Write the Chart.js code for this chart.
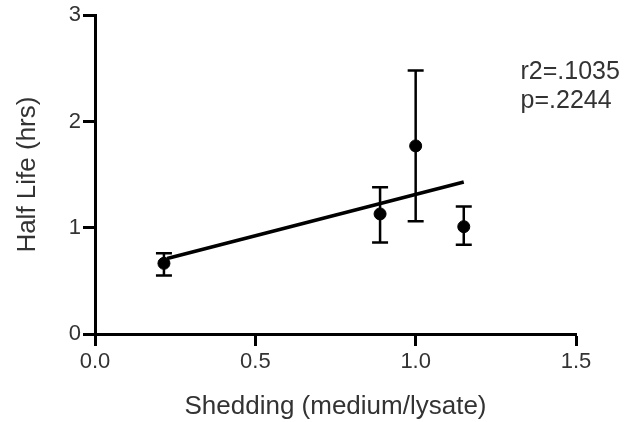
<!DOCTYPE html>
<html>
<head>
<meta charset="utf-8">
<script src="https://cdn.jsdelivr.net/npm/chart.js@4/dist/chart.umd.min.js"></script>
<style>
  html, body { margin: 0; padding: 0; background: #ffffff; }
  #wrap { width: 627px; height: 422px; }
</style>
</head>
<body>
<div id="wrap"><canvas id="c" width="627" height="422"></canvas></div>
<script>
// ---- data ----
const sheddingX   = [0.215, 0.889, 1.0, 1.15];
const halfLifeY   = [0.665, 1.13, 1.77, 1.01];
const errorLow    = [0.55, 0.86, 1.06, 0.84];
const errorHigh   = [0.76, 1.38, 2.48, 1.20];
const fitX        = [0.225, 1.15];
const fitY        = [0.71, 1.43];
const xTicks      = [0.0, 0.5, 1.0, 1.5];
const yTicks      = [0, 1, 2, 3];
const statLines   = ["r2=.1035", "p=.2244"];
const statAnchorX = 1.327;
const statAnchorY = [2.46, 2.19];

const ink = '#000000';
const textInk = '#333333';
const fontFam = '"Liberation Sans", Arial, Helvetica, sans-serif';

const errorBarPlugin = {
  id: 'errorBars',
  afterDatasetsDraw(chart) {
    const xs = chart.scales.x, ys = chart.scales.y;
    const ctx = chart.ctx;
    ctx.save();
    ctx.strokeStyle = ink;
    ctx.lineWidth = 2.5;
    const cap = 8;
    for (let i = 0; i < sheddingX.length; i++) {
      const px = xs.getPixelForValue(sheddingX[i]);
      const lo = ys.getPixelForValue(errorLow[i]);
      const hi = ys.getPixelForValue(errorHigh[i]);
      ctx.beginPath();
      ctx.moveTo(px, lo); ctx.lineTo(px, hi);
      ctx.moveTo(px - cap, lo); ctx.lineTo(px + cap, lo);
      ctx.moveTo(px - cap, hi); ctx.lineTo(px + cap, hi);
      ctx.stroke();
    }
    ctx.restore();
  }
};

const statsPlugin = {
  id: 'stats',
  afterDraw(chart) {
    const xs = chart.scales.x, ys = chart.scales.y;
    const ctx = chart.ctx;
    ctx.save();
    ctx.fillStyle = textInk;
    ctx.font = '25px ' + fontFam;
    ctx.textAlign = 'left';
    ctx.textBaseline = 'middle';
    statLines.forEach((t, i) => {
      ctx.fillText(t, xs.getPixelForValue(statAnchorX), ys.getPixelForValue(statAnchorY[i]));
    });
    ctx.restore();
  }
};

new Chart(document.getElementById('c'), {
  type: 'scatter',
  data: {
    datasets: [
      {
        label: 'Half life',
        data: sheddingX.map((x, i) => ({ x: x, y: halfLifeY[i] })),
        backgroundColor: ink,
        borderColor: ink,
        pointRadius: 6,
        pointHoverRadius: 6,
        order: 1
      },
      {
        type: 'line',
        label: 'Fit',
        data: fitX.map((x, i) => ({ x: x, y: fitY[i] })),
        borderColor: ink,
        borderWidth: 3.5,
        pointRadius: 0,
        fill: false,
        order: 2
      }
    ]
  },
  options: {
    responsive: false,
    devicePixelRatio: 1,
    animation: false,
    layout: { padding: { top: 14, right: 51, left: 0, bottom: 0 } },
    plugins: {
      legend: { display: false },
      tooltip: { enabled: false }
    },
    scales: {
      x: {
        type: 'linear',
        min: 0, max: 1.5,
        afterBuildTicks(scale) { scale.ticks = xTicks.map(v => ({ value: v })); },
        ticks: {
          callback: v => Number(v).toFixed(1),
          color: textInk,
          font: { family: fontFam, size: 22 },
          padding: 3,
          maxRotation: 0
        },
        grid: { drawOnChartArea: false, drawTicks: true, tickLength: 12, tickWidth: 3, tickColor: ink },
        border: { display: true, color: ink, width: 3 },
        title: {
          display: true,
          text: 'Shedding (medium/lysate)',
          color: textInk,
          font: { family: fontFam, size: 26 },
          padding: { top: 6, bottom: 0 }
        },
        afterFit(scale) { scale.height = 88; }
      },
      y: {
        type: 'linear',
        min: 0, max: 3,
        afterBuildTicks(scale) { scale.ticks = yTicks.map(v => ({ value: v })); },
        ticks: {
          color: textInk,
          font: { family: fontFam, size: 22 },
          padding: 2
        },
        grid: { drawOnChartArea: false, drawTicks: true, tickLength: 12, tickWidth: 3, tickColor: ink },
        border: { display: true, color: ink, width: 3 },
        title: {
          display: true,
          text: 'Half Life (hrs)',
          color: textInk,
          font: { family: fontFam, size: 26 },
          padding: { top: 12, bottom: 0 }
        },
        afterFit(scale) { scale.width = 95; }
      }
    }
  },
  plugins: [errorBarPlugin, statsPlugin]
});
</script>
</body>
</html>
